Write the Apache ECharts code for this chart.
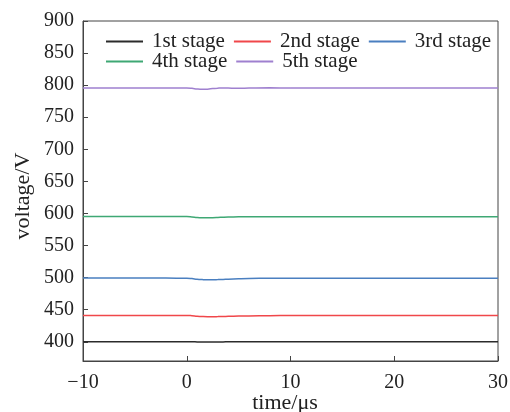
<!DOCTYPE html>
<html>
<head>
<meta charset="utf-8">
<script src="https://cdn.jsdelivr.net/npm/echarts@6/dist/echarts.min.js"></script>
<style>html,body{margin:0;padding:0;background:#fff}#c{width:510px;height:412px}</style>
</head>
<body>
<div id="c"></div>
<script>
const time = [-10,-8,-6,-4,-2,0,0.5,1,1.5,2,2.5,3,3.5,4,5,6,8,10,12,14,16,18,20,22,24,26,28,30];
const stage1 = [400,400,400,400,400,400,400,399.8,399.6,399.5,399.6,399.7,399.8,399.9,400,400,400,400,400.2,400.1,400,400,400,400,400,400,400,400];
const stage2 = [441,441,441,441,441,441,440.6,439.8,439.3,439.1,439.1,439.2,439.4,439.6,440,440.3,440.6,440.8,440.8,440.8,440.8,440.8,440.8,440.8,440.8,440.8,440.8,440.8];
const stage3 = [499.2,499.2,499.2,499.2,499.2,499.1,498.5,497.4,496.9,496.7,496.7,496.9,497.2,497.6,498.2,498.6,498.9,499,499,499,499,499,499,499,499,499,499,499];
const stage4 = [595.2,595.2,595.2,595.2,595.2,595.1,594.6,593.8,593.4,593.3,593.4,593.7,594.1,594.4,594.8,595,595,595,595,595,595,595,595,595,595,595,595,595];
const stage5 = [795.6,795.6,795.6,795.6,795.6,795.5,795,794,793.6,793.8,794.6,795.3,795.6,795.4,795.2,795.5,795.8,795.6,795.4,795.7,795.5,795.6,795.5,795.6,795.6,795.5,795.6,795.6];
const names = ['1st stage','2nd stage','3rd stage','4th stage','5th stage'];
const colors = ['#2b2b2b','#f0474a','#4a7fc0','#3fa874','#9f80cf'];
const yTicks = [400,450,500,550,600,650,700,750,800,850,900];
const xTicks = [-10,0,10,20,30];
const xName = 'time/μs';
const yName = 'voltage/V';

const all = [stage1,stage2,stage3,stage4,stage5];
const font = '"Liberation Serif","DejaVu Serif",serif';
const legendBase = {
  left: 106, itemWidth: 37, itemHeight: 2, itemGap: 9, icon: 'rect', padding: 0, orient: 'horizontal',
  textStyle: {fontFamily: font, fontSize: 21, color: '#222', padding: [0, 0, 0, 4]}
};
const chart = echarts.init(document.getElementById('c'));
chart.setOption({
  animation: false,
  grid: {left: 83, right: 12, top: 21, bottom: 51, outerBoundsMode: 'none', containLabel: false,
         show: true, borderColor: '#444', borderWidth: 1, backgroundColor: 'transparent'},
  legend: [
    Object.assign({}, legendBase, {top: 31, data: names.slice(0, 3)}),
    Object.assign({}, legendBase, {top: 51, data: names.slice(3)})
  ],
  graphic: [
    {type: 'text', x: 285, y: 403, style: {text: xName, fontFamily: font, fontSize: 22, fill: '#222', textAlign: 'center', textVerticalAlign: 'middle'}},
    {type: 'text', x: 23, y: 196, rotation: Math.PI / 2, style: {text: yName, fontFamily: font, fontSize: 22, fill: '#222', textAlign: 'center', textVerticalAlign: 'middle'}}
  ],
  xAxis: {
    type: 'value', min: -10, max: 30, interval: 10,
    axisLine: {onZero: false, lineStyle: {color: '#444'}},
    axisTick: {inside: true, length: 5, lineStyle: {color: '#444'}},
    axisLabel: {fontFamily: font, fontSize: 20, color: '#222', margin: 12, formatter: v => String(v).replace('-', '\u2212')},
    splitLine: {show: false}
  },
  yAxis: {
    type: 'value', min: 370, max: 900,
    axisLine: {onZero: false, lineStyle: {color: '#444'}},
    axisTick: {inside: true, length: 5, lineStyle: {color: '#444'}, customValues: yTicks},
    axisLabel: {fontFamily: font, fontSize: 20, color: '#222', margin: 9, customValues: yTicks},
    splitLine: {show: false}
  },
  series: all.map((d, i) => ({
    name: names[i], type: 'line', smooth: true, showSymbol: false, symbol: 'none',
    color: colors[i], lineStyle: {width: 1.5, color: colors[i]},
    data: time.map((t, j) => [t, d[j]])
  }))
});
</script>
</body>
</html>
